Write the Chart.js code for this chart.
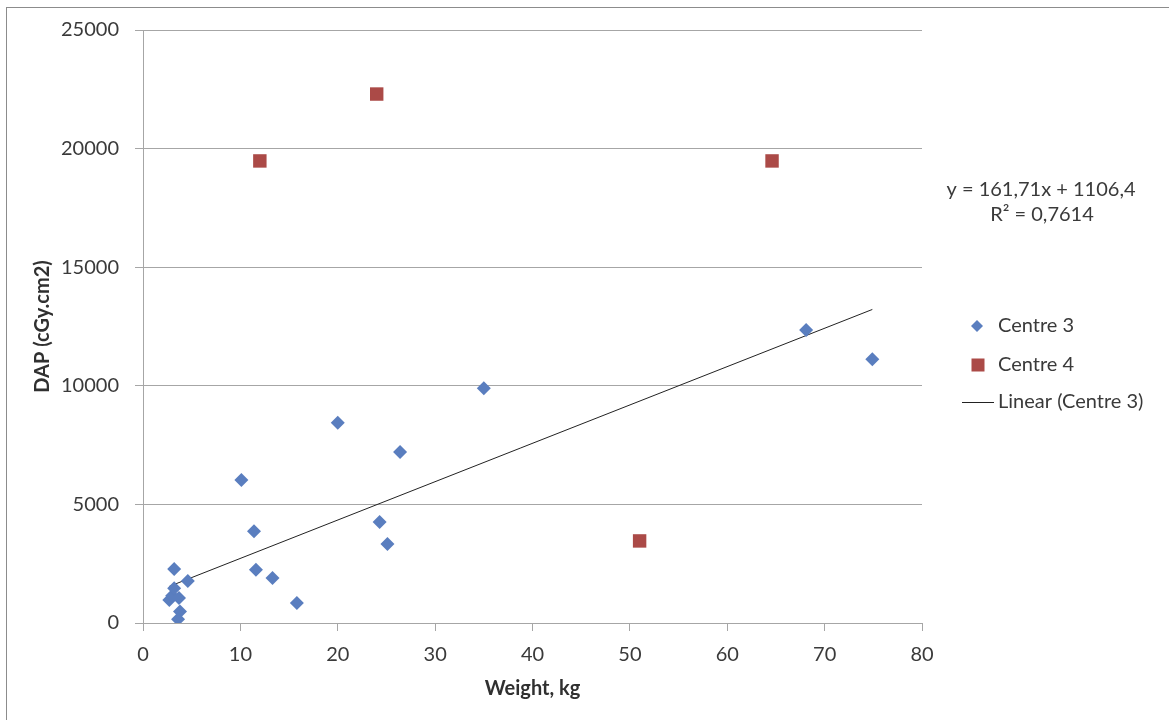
<!DOCTYPE html>
<html>
<head>
<meta charset="utf-8">
<script src="https://cdn.jsdelivr.net/npm/chart.js@4"></script>
<style>
	body { margin: 0; background: #ffffff; }
	#chart { display: block; }
</style>
</head>
<body>
<canvas id="chart" width="1169" height="720"></canvas>
<script>
// Centre 3 (blue diamonds)
const centre3Weight = [2.7, 3.0, 3.2, 3.2, 3.7, 3.8, 3.6, 4.6, 10.1, 11.4, 11.6, 13.3, 15.8, 20.0, 24.3, 25.1, 26.4, 35.0, 68.1, 74.9];
const centre3Dap = [970, 1150, 1460, 2280, 1050, 480, 160, 1770, 6030, 3870, 2240, 1900, 840, 8440, 4260, 3330, 7210, 9900, 12350, 11120];

// Centre 4 (red squares)
const centre4Weight = [12.0, 24.0, 64.6, 51.0];
const centre4Dap = [19480, 22300, 19480, 3460];

// linear trend of centre 3, as printed on the chart
const trendSlope = 161.71;
const trendIntercept = 1106.4;
const trendLabel = "y = 161,71x + 1106,4";
const r2Label = "R\u00b2 = 0,7614";

const xTicks = [0, 10, 20, 30, 40, 50, 60, 70, 80];
const yTicks = [0, 5000, 10000, 15000, 20000, 25000];

const seriesNames = ["Centre 3", "Centre 4", "Linear (Centre 3)"];

const blue = "#5a7ebf";
const red = "#ab4a47";
const textColor = "#3a3a3a";
const gridColor = "#a6a6a6";
const fontFamily = "Lato, 'Open Sans', sans-serif";

const centre3Points = centre3Weight.map((w, i) => ({ x: w, y: centre3Dap[i] }));
const centre4Points = centre4Weight.map((w, i) => ({ x: w, y: centre4Dap[i] }));
const minW = Math.min(...centre3Weight);
const maxW = Math.max(...centre3Weight);
const trendPoints = [minW, maxW].map((w) => ({ x: w, y: trendSlope * w + trendIntercept }));

// frame, equation and legend drawn by hand to match the spreadsheet layout
const decorPlugin = {
	id: "decor",
	beforeDraw(chart) {
		const ctx = chart.ctx;
		ctx.save();
		ctx.fillStyle = "#ffffff";
		ctx.fillRect(0, 0, chart.width, chart.height);
		ctx.strokeStyle = "#8c8c8c";
		ctx.lineWidth = 1;
		ctx.strokeRect(6.5, 7.5, chart.width + 20, chart.height + 20);
		ctx.restore();
	},
	afterDraw(chart) {
		const ctx = chart.ctx;
		ctx.save();
		ctx.font = "20px " + fontFamily;
		ctx.fillStyle = textColor;
		ctx.textBaseline = "middle";
		ctx.textAlign = "center";
		ctx.fillText(trendLabel, 1041, 190);
		ctx.fillText(r2Label, 1042, 215);

		// legend
		ctx.textAlign = "left";
		const textX = 998;
		const rows = [326, 365, 402];

		ctx.fillStyle = blue;
		ctx.beginPath();
		ctx.moveTo(977, rows[0] - 6);
		ctx.lineTo(983, rows[0]);
		ctx.lineTo(977, rows[0] + 6);
		ctx.lineTo(971, rows[0]);
		ctx.closePath();
		ctx.fill();

		ctx.fillStyle = red;
		ctx.fillRect(971.5, rows[1] - 6.5, 13, 13);

		ctx.strokeStyle = "#222222";
		ctx.lineWidth = 1;
		ctx.beginPath();
		ctx.moveTo(962, rows[2] + 0.5);
		ctx.lineTo(994, rows[2] + 0.5);
		ctx.stroke();

		ctx.fillStyle = textColor;
		seriesNames.forEach((name, i) => {
			ctx.fillText(name, textX, rows[i]);
		});
		ctx.restore();
	},
};

new Chart(document.getElementById("chart"), {
	type: "scatter",
	data: {
		datasets: [
			{
				label: seriesNames[0],
				data: centre3Points,
				pointStyle: "rectRot",
				pointRadius: 7,
				pointHoverRadius: 7,
				pointBackgroundColor: blue,
				pointBorderColor: blue,
				pointBorderWidth: 0,
			},
			{
				label: seriesNames[1],
				data: centre4Points,
				pointStyle: "rect",
				pointRadius: 9.5,
				pointHoverRadius: 9.5,
				pointBackgroundColor: red,
				pointBorderColor: red,
				pointBorderWidth: 0,
			},
			{
				label: seriesNames[2],
				data: trendPoints,
				showLine: true,
				borderColor: "#222222",
				borderWidth: 1,
				pointRadius: 0,
				pointHoverRadius: 0,
			},
		],
	},
	options: {
		responsive: false,
		animation: false,
		layout: {
			padding: { top: 30, right: 247, bottom: 0, left: 0 },
		},
		plugins: {
			legend: { display: false },
			tooltip: { enabled: false },
		},
		scales: {
			x: {
				type: "linear",
				min: 0,
				max: 80,
				afterBuildTicks: (scale) => {
					scale.ticks = xTicks.map((v) => ({ value: v }));
				},
				afterFit: (scale) => {
					scale.height = 97;
				},
				grid: {
					drawOnChartArea: false,
					drawTicks: true,
					tickLength: 8,
					color: gridColor,
				},
				border: { display: true, color: gridColor },
				ticks: {
					padding: 12,
					color: textColor,
					font: { family: fontFamily, size: 20 },
					callback: (v) => String(v),
				},
				title: {
					display: true,
					text: "Weight, kg",
					color: "#303030",
					font: { family: fontFamily, size: 20, weight: "bold" },
					padding: { top: 0, bottom: 19 },
				},
			},
			y: {
				type: "linear",
				min: 0,
				max: 25000,
				afterBuildTicks: (scale) => {
					scale.ticks = yTicks.map((v) => ({ value: v }));
				},
				afterFit: (scale) => {
					scale.width = 143;
				},
				grid: {
					drawOnChartArea: true,
					drawTicks: true,
					tickLength: 8,
					color: gridColor,
				},
				border: { display: true, color: gridColor },
				ticks: {
					padding: 16,
					color: textColor,
					font: { family: fontFamily, size: 20 },
					callback: (v) => String(v),
				},
				title: {
					display: true,
					text: "DAP (cGy.cm2)",
					color: "#303030",
					font: { family: fontFamily, size: 20, weight: "bold" },
					padding: { top: 31, bottom: 0 },
				},
			},
		},
	},
	plugins: [decorPlugin],
});
</script>
</body>
</html>
